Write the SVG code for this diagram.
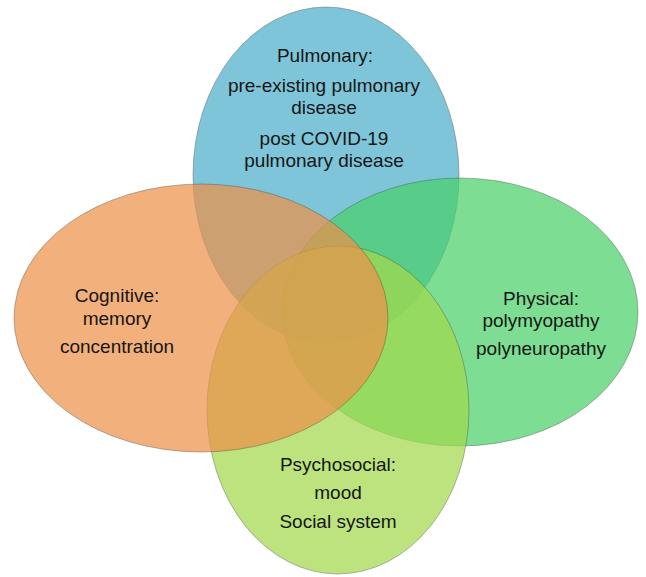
<svg xmlns="http://www.w3.org/2000/svg" width="646" height="577" viewBox="0 0 646 577">
<defs>
<style>
.shape{stroke:#3a3a3a;stroke-opacity:0.35;stroke-width:1;fill-opacity:0.72}
text{font-family:"Liberation Sans",Arial,sans-serif;font-size:19px;fill:#161616;text-anchor:middle}
</style>
</defs>
<rect width="646" height="577" fill="#ffffff"/>
<g id="pulmonary">
<ellipse class="shape" cx="326" cy="175" rx="133" ry="168" fill="#4CAECA"/>
<text x="325" y="62">Pulmonary:</text>
<text x="324" y="92">pre-existing pulmonary</text>
<text x="324" y="114">disease</text>
<text x="324" y="145">post COVID-19</text>
<text x="324" y="167">pulmonary disease</text>
</g>
<g id="physical">
<ellipse class="shape" cx="460" cy="312" rx="178" ry="134" fill="#4AD069"/>
<text x="541" y="305">Physical:</text>
<text x="541" y="327">polymyopathy</text>
<text x="541" y="355">polyneuropathy</text>
</g>
<g id="psychosocial">
<ellipse class="shape" cx="338" cy="410" rx="131" ry="164" fill="#A2D84C"/>
<text x="338" y="471">Psychosocial:</text>
<text x="338" y="499">mood</text>
<text x="338" y="528">Social system</text>
</g>
<g id="cognitive">
<ellipse class="shape" cx="201" cy="318" rx="187" ry="134" fill="#EC914A"/>
<text x="117" y="302">Cognitive:</text>
<text x="117" y="325">memory</text>
<text x="117" y="353">concentration</text>
</g>
<g id="connectors"></g>
</svg>
